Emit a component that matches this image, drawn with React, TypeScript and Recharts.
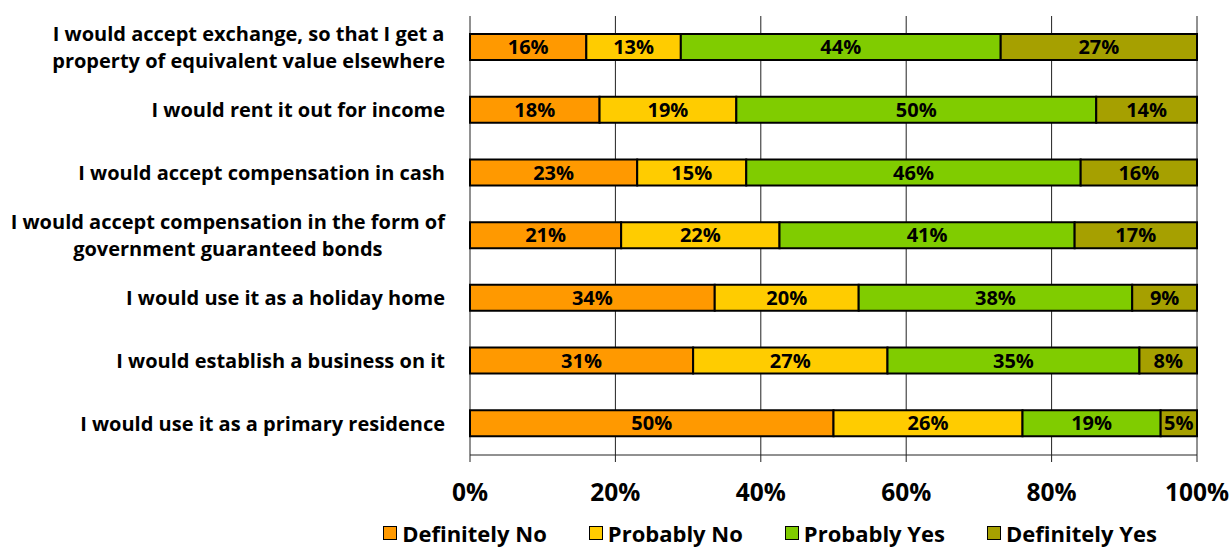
import React from 'react';
import { BarChart, Bar, XAxis, YAxis, CartesianGrid, LabelList, Legend } from 'recharts';

const categories = [
  'I would accept exchange, so that I get a\nproperty of equivalent value elsewhere',
  'I would rent it out for income',
  'I would accept compensation in cash',
  'I would accept compensation in the form of\ngovernment guaranteed bonds',
  'I would use it as a holiday home',
  'I would establish a business on it',
  'I would use it as a primary residence',
];
const definitelyNo = [16, 18, 23, 21, 34, 31, 50];
const probablyNo = [13, 19, 15, 22, 20, 27, 26];
const probablyYes = [44, 50, 46, 41, 38, 35, 19];
const definitelyYes = [27, 14, 16, 17, 9, 8, 5];
const xTicks = [0, 0.2, 0.4, 0.6, 0.8, 1];
const boundaryTicks = [0, 1, 2, 3, 4, 5, 6, 7];
const seriesKeys = ['dNo', 'pNo', 'pYes', 'dYes'];
const seriesNames = ['Definitely No', 'Probably No', 'Probably Yes', 'Definitely Yes'];
const seriesColors = ['#FF9900', '#FFCC00', '#80CC00', '#A6A000'];

const data = categories.map((label, i) => ({
  label,
  dNo: definitelyNo[i],
  pNo: probablyNo[i],
  pYes: probablyYes[i],
  dYes: definitelyYes[i],
}));

const FONT = '"Open Sans", Lato, sans-serif';
const LABEL_SIZE = 20;

let canvasCtx: CanvasRenderingContext2D | null = null;
function measure(text: string, font: string): number {
  if (!canvasCtx) {
    const c = document.createElement('canvas');
    canvasCtx = c.getContext('2d');
  }
  if (!canvasCtx) return text.length * 10;
  canvasCtx.font = font;
  return canvasCtx.measureText(text).width;
}

const CategoryTick = (props: any) => {
  const { x, y, payload } = props;
  const lines = String(payload.value).split('\n');
  const lh = 27;
  const widths = lines.map((l) => measure(l, `bold ${LABEL_SIZE}px "Open Sans"`));
  const maxW = Math.max(...widths);
  const cx = x - maxW / 2;
  const startY = y - ((lines.length - 1) * lh) / 2;
  return (
    <text textAnchor="middle" fontFamily={FONT} fontWeight={700} fontSize={LABEL_SIZE} fill="#000">
      {lines.map((l, i) => (
        <tspan key={i} x={cx} y={startY + i * lh} dy="0.35em">
          {l}
        </tspan>
      ))}
    </text>
  );
};

const LegendContent = () => (
  <div
    style={{
      display: 'flex',
      justifyContent: 'center',
      alignItems: 'center',
      gap: 42,
      fontFamily: FONT,
      fontWeight: 700,
      fontSize: 22,
      lineHeight: '28px',
      color: '#000',
      whiteSpace: 'nowrap',
      paddingTop: 4,
    }}
  >
    {seriesNames.map((n, i) => (
      <div key={n} style={{ display: 'flex', alignItems: 'center' }}>
        <span
          style={{
            display: 'inline-block',
            width: 12,
            height: 12,
            background: seriesColors[i],
            border: '1.5px solid #000',
            marginRight: 5,
          }}
        />
        <span>{n}</span>
      </div>
    ))}
  </div>
);

export default function App() {
  return (
    <div style={{ position: 'absolute', left: 0, top: 0, width: 1230, height: 549, background: '#fff', overflow: 'hidden' }}>
      <BarChart
        width={1230}
        height={549}
        data={data}
        layout="vertical"
        stackOffset="expand"
        barSize={26}
        margin={{ top: 16, right: 33, left: 0, bottom: 0 }}
      >
        <CartesianGrid horizontal={false} vertical={true} stroke="#222" strokeWidth={1} />
        <XAxis
          type="number"
          domain={[0, 1]}
          ticks={xTicks}
          tickFormatter={(v: number) => `${Math.round(v * 100)}%`}
          axisLine={{ stroke: '#222' }}
          tickLine={{ stroke: '#222' }}
          tickSize={7}
          tickMargin={22}
          height={60}
          tick={{ fontFamily: FONT, fontWeight: 700, fontSize: 24.5, fill: '#000' }}
          interval={0}
        />
        <XAxis
          xAxisId="top"
          orientation="top"
          type="number"
          domain={[0, 1]}
          tick={false}
          tickLine={false}
          axisLine={{ stroke: '#222' }}
          height={0}
        />
        <YAxis
          yAxisId="grid"
          type="number"
          domain={[0, 7]}
          ticks={boundaryTicks}
          tick={false}
          tickSize={7}
          tickLine={{ stroke: '#222' }}
          axisLine={{ stroke: '#222' }}
          width={0}
          interval={0}
        />
        <YAxis
          yAxisId="cat"
          type="category"
          dataKey="label"
          width={470}
          axisLine={false}
          tickLine={false}
          tickSize={0}
          tickMargin={25}
          tick={<CategoryTick />}
          interval={0}
        />
        <Legend verticalAlign="bottom" height={34} content={<LegendContent />} wrapperStyle={{ left: 155, width: 1230 }} />
        {seriesKeys.map((k, i) => (
          <Bar
            key={k}
            dataKey={k}
            name={seriesNames[i]}
            stackId="a"
            yAxisId="cat"
            fill={seriesColors[i]}
            stroke="#000"
            strokeWidth={2}
            isAnimationActive={false}
          >
            <LabelList
              dataKey={k}
              position="center"
              formatter={(v: any) => `${v}%`}
              style={{ fontFamily: FONT, fontWeight: 700, fontSize: 20, fill: '#000' }}
            />
          </Bar>
        ))}
      </BarChart>
    </div>
  );
}
